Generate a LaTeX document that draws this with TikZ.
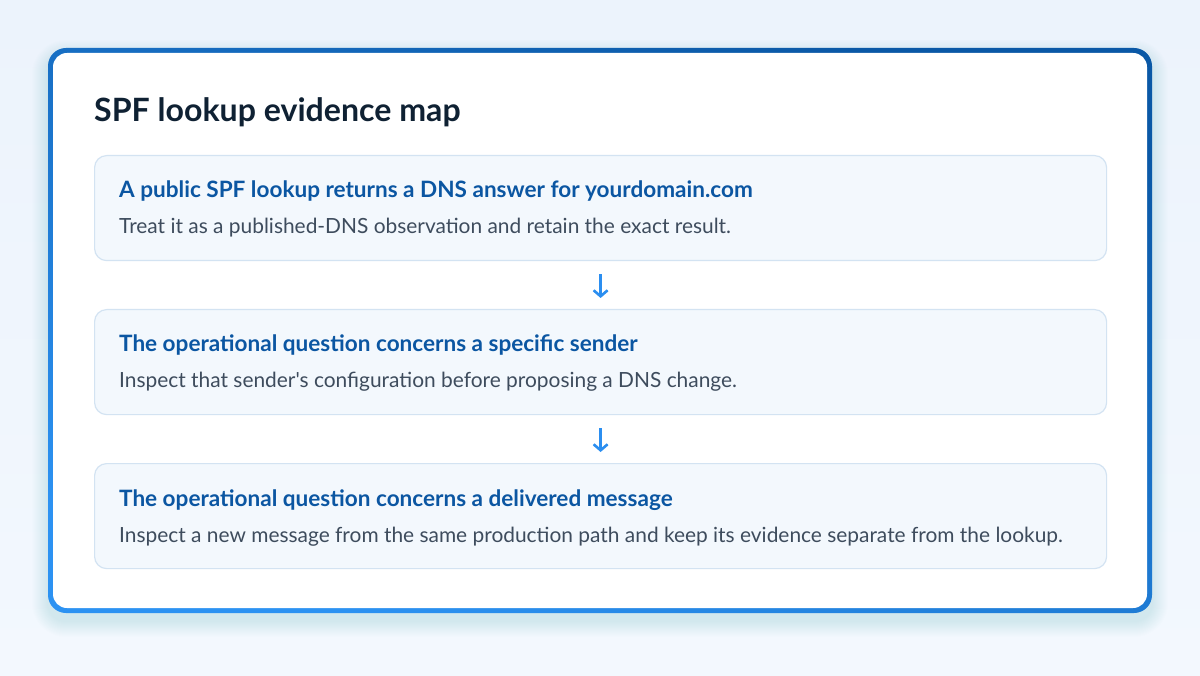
\documentclass[tikz,border=0pt]{standalone}
\usepackage{fontspec}
\setmainfont{Lato}[Ligatures=TeXOff]
\usetikzlibrary{arrows.meta}
\definecolor{bgA}{HTML}{ECF3FC}
\definecolor{bgB}{HTML}{F3F8FE}
\definecolor{frameA}{HTML}{0A58A6}
\definecolor{frameB}{HTML}{2C92F2}
\definecolor{boxfill}{HTML}{F3F8FD}
\definecolor{boxline}{HTML}{D3E3F2}
\definecolor{titlecol}{HTML}{0F2133}
\definecolor{headcol}{HTML}{0B56A2}
\definecolor{bodycol}{HTML}{3E4C5D}
\definecolor{arrowcol}{HTML}{2B8EF0}
\definecolor{shadowcol}{HTML}{4A7FB8}
\tikzset{
  x=1pt, y=-1pt,
  stepcard/.style={draw=boxline, line width=1.2pt, fill=boxfill, rounded corners=12pt,
    minimum width=1012pt, minimum height=105pt, anchor=north west, inner sep=0pt},
  titletext/.style={anchor=base west, inner sep=0pt, text=titlecol, font=\fontsize{32.1}{36}\selectfont\bfseries},
  headtext/.style={anchor=base west, inner sep=0pt, text=headcol, font=\fontsize{22.55}{26}\selectfont\bfseries},
  bodytext/.style={anchor=base west, inner sep=0pt, text=bodycol, font=\fontsize{20.9}{24}\selectfont},
  flowarrow/.style={draw=arrowcol, line width=2.6pt, shorten <=13pt, shorten >=11pt,
    -{Straight Barb[length=6pt, width=14pt, line width=2.6pt]}}
}
\begin{document}
\begin{tikzpicture}
\useasboundingbox (0,0) rectangle (1200,676);
% background
\shade[top color=bgA, bottom color=bgB] (0,0) rectangle (1200,676);
% soft card shadow
\foreach \s in {1,...,16} {
  \fill[shadowcol, opacity=0.008, rounded corners={18pt+\s pt}] (48-\s,48-\s+8) rectangle (1152+\s,613+\s+8);
}
% card gradient frame
\shade[left color=frameA, right color=frameB, shading angle=-20, rounded corners=18pt] (48,48) rectangle (1152,613);
\fill[white, rounded corners=14pt] (53,53) rectangle (1147,608);
% title
\node[titletext] (title) at (94,122) {SPF lookup evidence map};
% boxes
\node[stepcard] (b1) at (94,155) {};
\node[stepcard] (b2) at (94,309) {};
\node[stepcard] (b3) at (94,463) {};
\node[headtext] (h1) at (119,198) {A public SPF lookup returns a DNS answer for yourdomain.com};
\node[bodytext] (t1) at (119,234) {Treat it as a published-DNS observation and retain the exact result.};
\node[headtext] (h2) at (119,352) {The operational question concerns a specific sender};
\node[bodytext] (t2) at (119,388) {Inspect that sender's configuration before proposing a DNS change.};
\node[headtext] (h3) at (119,506) {The operational question concerns a delivered message};
\node[bodytext] (t3) at (119,542) {Inspect a new message from the same production path and keep its evidence separate from the lookup.};
% arrows
\draw[flowarrow] (b1) -- (b2);
\draw[flowarrow] (b2) -- (b3);
\end{tikzpicture}
\end{document}
